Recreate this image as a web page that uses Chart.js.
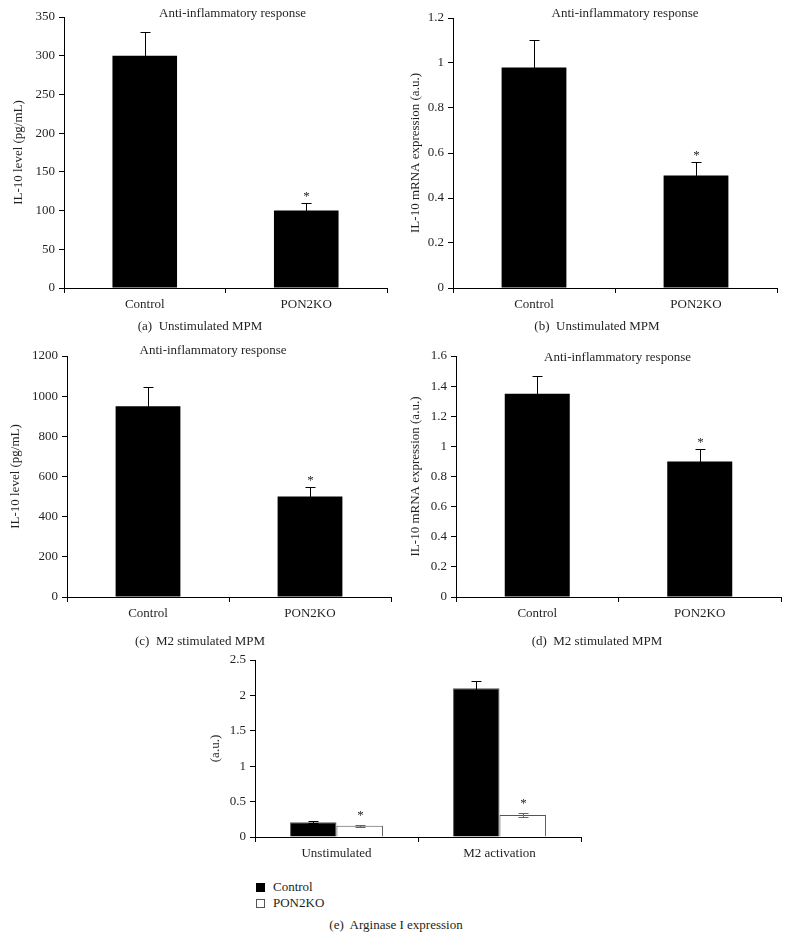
<!DOCTYPE html>
<html>
<head>
<meta charset="utf-8">
<script src="https://cdn.jsdelivr.net/npm/chart.js@4/dist/chart.umd.min.js"></script>
<style>
  body { margin: 0; background: #fff; width: 790px; height: 941px; position: relative; overflow: hidden;
         font-family: "Liberation Serif", "Times New Roman", serif; color: #231f20; }
  canvas { position: absolute; }
  .cap { position: absolute; font-size: 13px; transform: translate(-50%, -50%); white-space: nowrap; }
  .leg { position: absolute; font-size: 13px; left: 256px; white-space: nowrap; }
  .leg span.box { display: inline-block; width: 9px; height: 9px; box-sizing: border-box; margin-right: 8px; vertical-align: -1px; }
</style>
</head>
<body>
<canvas id="chartA" width="395" height="320" style="left:0;top:0"></canvas>
<canvas id="chartB" width="395" height="320" style="left:390px;top:0"></canvas>
<canvas id="chartC" width="395" height="299" style="left:0;top:330px"></canvas>
<canvas id="chartD" width="395" height="299" style="left:390px;top:330px"></canvas>
<canvas id="chartE" width="390" height="229" style="left:200px;top:640px"></canvas>

<div class="cap" style="left:200px;top:326px">(a)&nbsp; Unstimulated MPM</div>
<div class="cap" style="left:597px;top:326px">(b)&nbsp; Unstimulated MPM</div>
<div class="cap" style="left:200px;top:641px">(c)&nbsp; M2 stimulated MPM</div>
<div class="cap" style="left:597px;top:641px">(d)&nbsp; M2 stimulated MPM</div>
<div class="leg" style="top:879px"><span class="box" style="background:#000"></span>Control</div>
<div class="leg" style="top:895px"><span class="box" style="background:#fff;border:1px solid #555"></span>PON2KO</div>
<div class="cap" style="left:396px;top:925px">(e)&nbsp; Arginase I expression</div>

<script>
// values
const categories = ['Control', 'PON2KO'];
const stars = [false, true];

const il10UnstimValues = [300, 100];
const il10UnstimErrors = [30, 10];
const il10UnstimTicks = [0, 50, 100, 150, 200, 250, 300, 350];

const mrnaUnstimValues = [0.98, 0.5];
const mrnaUnstimErrors = [0.12, 0.06];
const mrnaUnstimTicks = [0, 0.2, 0.4, 0.6, 0.8, 1, 1.2];

const il10M2Values = [950, 500];
const il10M2Errors = [95, 50];
const il10M2Ticks = [0, 200, 400, 600, 800, 1000, 1200];

const mrnaM2Values = [1.35, 0.9];
const mrnaM2Errors = [0.12, 0.08];
const mrnaM2Ticks = [0, 0.2, 0.4, 0.6, 0.8, 1, 1.2, 1.4, 1.6];

const argCategories = ['Unstimulated', 'M2 activation'];
const argControlValues = [0.21, 2.1];
const argControlErrors = [0.01, 0.1];
const argKoValues = [0.16, 0.31];
const argKoErrors = [0.015, 0.03];
const argTicks = [0, 0.5, 1, 1.5, 2, 2.5];

const font = { family: '"Liberation Serif", "Times New Roman", serif', size: 13 };
const textColor = '#231f20';

// error bars + significance stars
const errorBars = {
  id: 'errorBars',
  afterDatasetsDraw(chart) {
    const ctx = chart.ctx;
    const y = chart.scales.y;
    chart.data.datasets.forEach((ds, di) => {
      const meta = chart.getDatasetMeta(di);
      meta.data.forEach((bar, i) => {
        const v = ds.data[i], e = ds.errors[i];
        const x = Math.round(bar.x) + 0.5;
        const top = Math.round(y.getPixelForValue(v + e)) + 0.5;
        const bot = Math.round(y.getPixelForValue(v - e)) + 0.5;
        ctx.save();
        ctx.strokeStyle = ds.errorColor;
        ctx.lineWidth = 1;
        ctx.beginPath();
        ctx.moveTo(x, top); ctx.lineTo(x, bot);
        ctx.moveTo(x - 5, top); ctx.lineTo(x + 5, top);
        ctx.moveTo(x - 5, bot); ctx.lineTo(x + 5, bot);
        ctx.stroke();
        if (ds.stars && ds.stars[i]) {
          ctx.fillStyle = textColor;
          ctx.font = '13px ' + font.family;
          ctx.textAlign = 'center';
          ctx.textBaseline = 'alphabetic';
          ctx.fillText('*', x, top - ds.starGap);
        }
        ctx.restore();
      });
    });
  }
};

const panelTitle = {
  id: 'panelTitle',
  afterDraw(chart, args, opts) {
    if (!opts.text) return;
    const { ctx, chartArea } = chart;
    ctx.save();
    ctx.fillStyle = textColor;
    ctx.font = '13px ' + font.family;
    ctx.textAlign = 'center';
    ctx.textBaseline = 'middle';
    ctx.fillText(opts.text, (chartArea.left + chartArea.right) / 2 + opts.dx, opts.y);
    ctx.restore();
  }
};

function yScale(ticks, width, title, titlePad) {
  return {
    min: ticks[0],
    max: ticks[ticks.length - 1],
    afterFit: s => { s.width = width; },
    afterBuildTicks: s => { s.ticks = ticks.map(v => ({ value: v })); },
    grid: { drawOnChartArea: false, tickLength: 5, color: '#000', lineWidth: 1 },
    border: { color: '#000', width: 1 },
    ticks: { font, color: textColor, padding: 4, callback: v => String(v) },
    title: { display: true, text: title, font, color: textColor, padding: { top: titlePad, bottom: 0 } }
  };
}

function xScale(height) {
  return {
    afterFit: s => { s.height = height; },
    grid: { drawOnChartArea: false, tickLength: 5, color: '#000', lineWidth: 1, offset: true },
    border: { color: '#000', width: 1 },
    ticks: { font, color: textColor, padding: 4 }
  };
}

function singlePanel(id, values, errors, ticks, yTitle, g) {
  return new Chart(document.getElementById(id), {
    type: 'bar',
    data: {
      labels: categories,
      datasets: [{
        data: values,
        errors: errors,
        stars: stars,
        starGap: 4,
        errorColor: '#000',
        backgroundColor: '#000',
        borderWidth: 0,
        categoryPercentage: 1,
        barPercentage: 0.4
      }]
    },
    options: {
      responsive: false,
      animation: false,
      devicePixelRatio: 1,
      layout: { padding: { top: g.top, right: g.right, left: 0, bottom: 0 } },
      plugins: {
        legend: { display: false },
        tooltip: { enabled: false },
        panelTitle: { text: 'Anti-inflammatory response', dx: g.dx, y: g.ty }
      },
      scales: { x: xScale(32), y: yScale(ticks, g.yw, yTitle, g.tp) }
    },
    plugins: [errorBars, panelTitle]
  });
}

singlePanel('chartA', il10UnstimValues, il10UnstimErrors, il10UnstimTicks, 'IL-10 level (pg/mL)',
  { top: 17, right: 8, yw: 64, tp: 11, dx: 7, ty: 14 });
singlePanel('chartB', mrnaUnstimValues, mrnaUnstimErrors, mrnaUnstimTicks, 'IL-10 mRNA expression (a.u.)',
  { top: 18, right: 8, yw: 63, tp: 18, dx: 10, ty: 14 });
singlePanel('chartC', il10M2Values, il10M2Errors, il10M2Ticks, 'IL-10 level (pg/mL)',
  { top: 26, right: 4, yw: 67, tp: 8, dx: -16, ty: 21 });
singlePanel('chartD', mrnaM2Values, mrnaM2Errors, mrnaM2Ticks, 'IL-10 mRNA expression (a.u.)',
  { top: 26, right: 4, yw: 66, tp: 18, dx: -1, ty: 28 });

new Chart(document.getElementById('chartE'), {
  type: 'bar',
  data: {
    labels: argCategories,
    datasets: [
      {
        label: 'Control',
        data: argControlValues,
        errors: argControlErrors,
        errorColor: '#000',
        backgroundColor: '#000',
        borderColor: '#555',
        borderWidth: 1,
        categoryPercentage: 0.57,
        barPercentage: 1
      },
      {
        label: 'PON2KO',
        data: argKoValues,
        errors: argKoErrors,
        stars: [true, true],
        starGap: 7,
        errorColor: '#666',
        backgroundColor: '#fff',
        borderColor: '#555',
        borderWidth: 1,
        categoryPercentage: 0.57,
        barPercentage: 1
      }
    ]
  },
  options: {
    responsive: false,
    animation: false,
    devicePixelRatio: 1,
    layout: { padding: { top: 20, right: 9, left: 0, bottom: 0 } },
    plugins: { legend: { display: false }, tooltip: { enabled: false } },
    scales: { x: xScale(32), y: yScale(argTicks, 55, '(a.u.)', 8) }
  },
  plugins: [errorBars]
});
</script>
</body>
</html>
